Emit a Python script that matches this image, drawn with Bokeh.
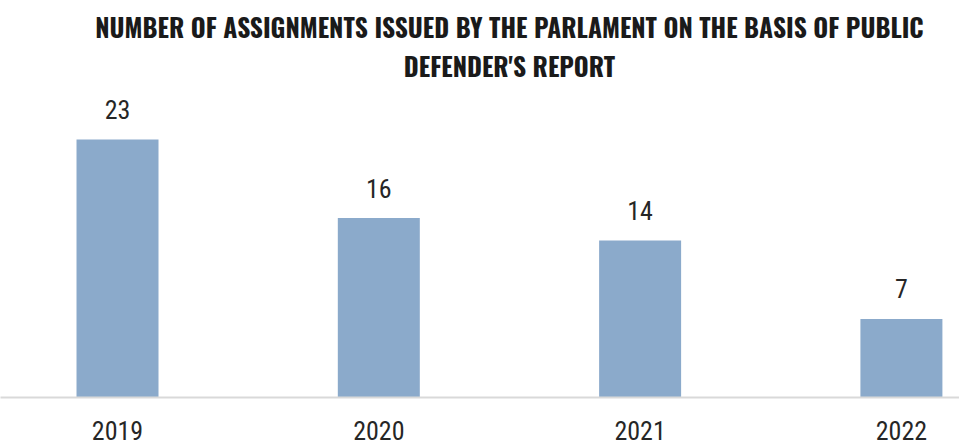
from bokeh.plotting import figure
from bokeh.models import ColumnDataSource, Range1d, FixedTicker, Label
from bokeh.embed import file_html
from bokeh.resources import INLINE
from bokeh.core.properties import value

years = ["2019", "2020", "2021", "2022"]
positions = [0, 1, 2, 3]
assignments = [23, 16, 14, 7]
title_lines = ["NUMBER OF ASSIGNMENTS ISSUED BY THE PARLAMENT ON THE BASIS OF PUBLIC",
               "DEFENDER'S REPORT"]

NUM_FONT = "Roboto Condensed"
TITLE_FONT = "Oswald"
src = ColumnDataSource(dict(x=positions, y=assignments, lab=[str(v) for v in assignments]))

W, H = 959, 444
BOTTOM = 47
p = figure(width=W, height=H, output_backend="svg", toolbar_location=None,
           x_range=Range1d(-0.4478, 3.2223), y_range=Range1d(0, 35.39),
           min_border_left=0, min_border_right=0, min_border_top=0, min_border_bottom=BOTTOM)
p.outline_line_color = None
p.grid.grid_line_color = None
p.yaxis.visible = False
p.background_fill_color = "white"

p.vbar(x="x", top="y", width=0.3138, source=src, fill_color="#8BAACB", line_color=None)
p.text(x="x", y="y", text="lab", source=src, text_align="center", text_baseline="alphabetic",
       y_offset=-30, text_font=value(NUM_FONT), text_font_size="26px",
       text_color="#262626")

ax = p.xaxis[0]
ax.ticker = FixedTicker(ticks=positions)
ax.major_label_overrides = {i: y for i, y in zip(positions, years)}
ax.axis_line_color = "#D9D9D9"
ax.axis_line_width = 2
ax.major_tick_line_color = None
ax.minor_tick_line_color = None
ax.major_tick_out = 0
ax.major_label_standoff = 23
ax.major_label_text_font = NUM_FONT
ax.major_label_text_font_size = "26px"
ax.major_label_text_color = "#262626"

for i, t in enumerate(title_lines):
    p.add_layout(Label(x=509, y=[371, 332][i], x_units="screen", y_units="screen",
                       text=t, text_align="center", text_baseline="alphabetic",
                       text_font=TITLE_FONT, text_font_style="bold",
                       text_font_size="25.5px", text_color="#1a1a1a"))

open("out.html", "w").write(file_html(p, INLINE))
